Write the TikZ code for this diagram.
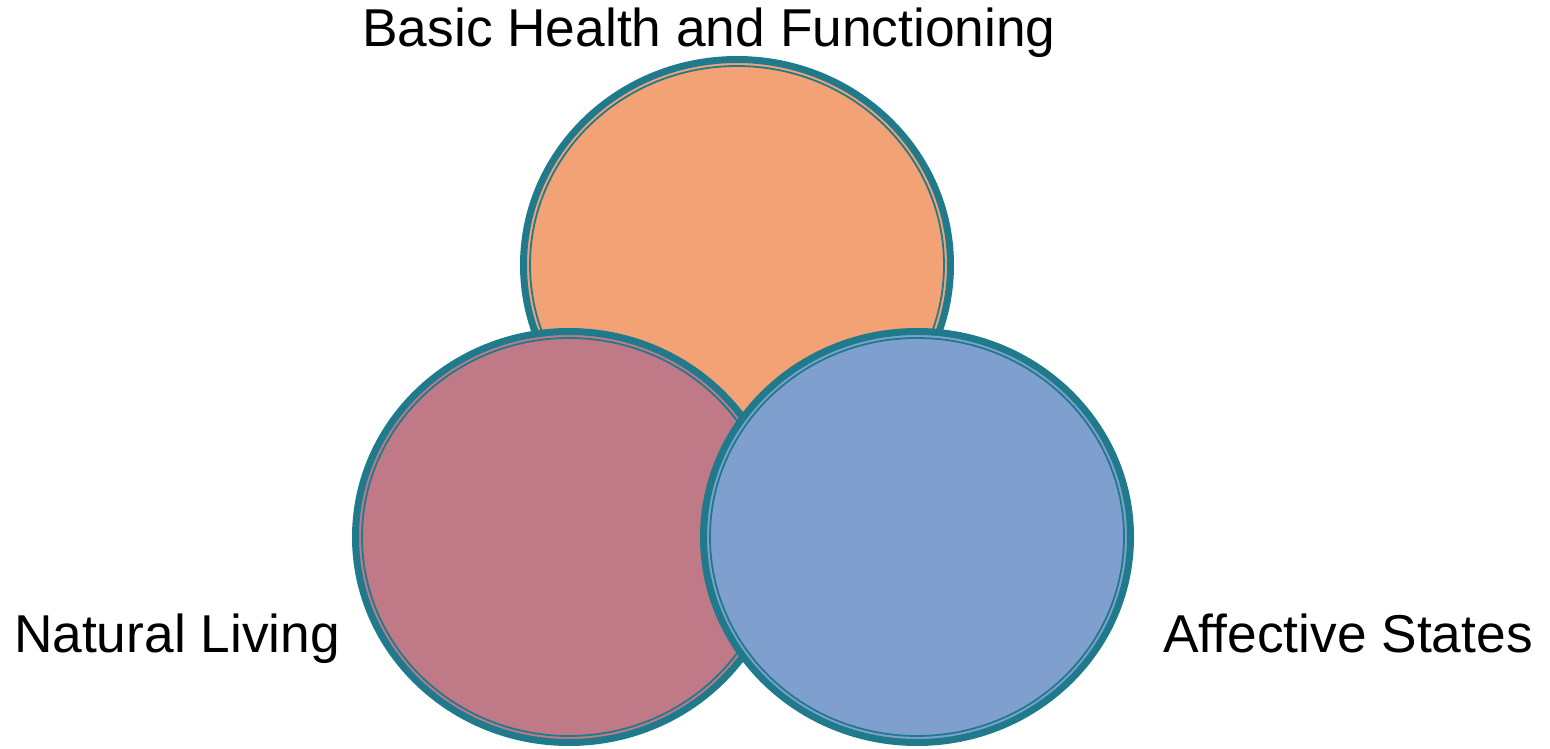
\documentclass[tikz,border=0pt]{standalone}
\usepackage{fontspec}
\setmainfont{Liberation Sans}
\definecolor{ring}{HTML}{1F7A8C}
\definecolor{corange}{HTML}{F2A275}
\definecolor{cpink}{HTML}{C07A87}
\definecolor{cblue}{HTML}{7FA0CF}
\tikzset{
  outerring/.style={draw=ring, line width=7pt},
  innerring/.style={draw=ring, line width=1.8pt},
  lbl/.style={font=\fontsize{53.3}{60}\selectfont, anchor=base, inner sep=0pt}
}
\begin{document}
\begin{tikzpicture}[x=1pt,y=1pt]
\useasboundingbox (0,0) rectangle (1550,748);
\coordinate (ctop) at (737,483);
\coordinate (cleft) at (569,211);
\coordinate (cright) at (917,211);
\foreach \c/\f in {ctop/corange, cleft/cpink, cright/cblue}{
  \fill[\f] (\c) ellipse [x radius=215, y radius=207];
  \draw[outerring] (\c) ellipse [x radius=213.5, y radius=205.5];
  \draw[innerring] (\c) ellipse [x radius=207, y radius=199];
}
\node[lbl] (t1) at (709,701) {Basic Health and Functioning};
\node[lbl] (t2) at (177,96) {Natural Living};
\node[lbl] (t3) at (1348,96) {Affective States};
\end{tikzpicture}
\end{document}
